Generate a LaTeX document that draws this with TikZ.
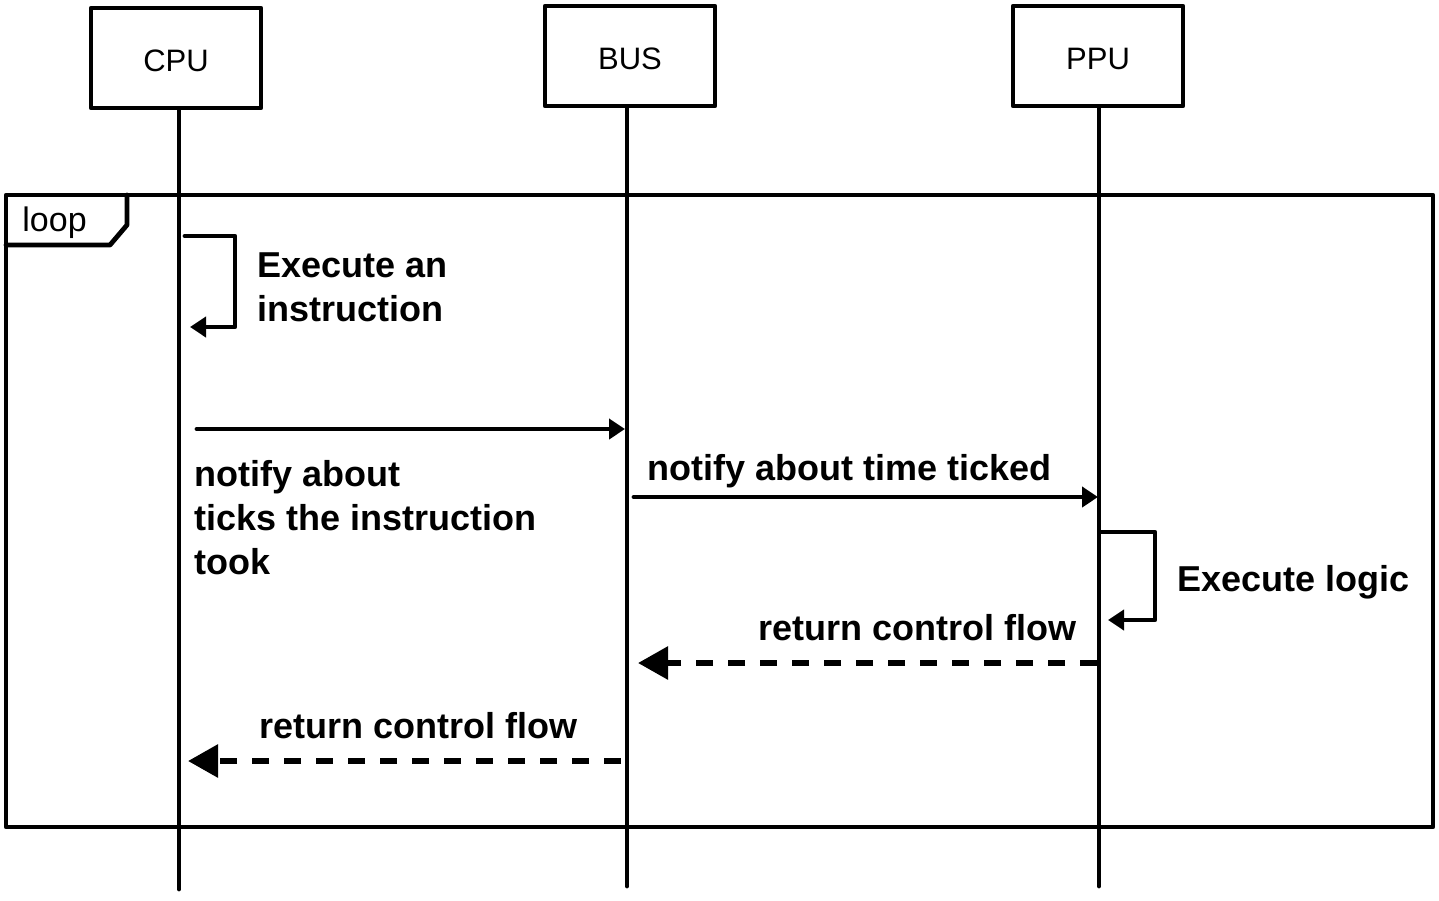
\documentclass[tikz,border=0pt]{standalone}
\usepackage{fontspec}
\setmainfont{Liberation Sans}
\usetikzlibrary{arrows.meta}
\begin{document}
\begin{tikzpicture}[x=0.5pt,y=-0.5pt,
  ln/.style={line width=2.4pt,line cap=round,line join=round},
  box/.style={ln,draw,minimum width=85pt,minimum height=50pt,inner sep=0pt,font=\fontsize{15.5}{18}\selectfont},
  lbl/.style={font=\bfseries\fontsize{18}{22}\selectfont,align=left,inner sep=0pt},
  msg/.style={ln,-{Triangle[length=8pt,width=10pt]}},
  ret/.style={line width=3pt,dash pattern=on 8.5pt off 7.5pt,-{Triangle[length=15pt,width=16pt]}}]
\useasboundingbox (0,0) rectangle (1439,900);
% participants
\node[box,text depth=0pt] (cpu) at (176,58) {\raisebox{-3pt}{CPU}};
\node[box,text depth=0pt] (bus) at (630,56) {\raisebox{-3pt}{BUS}};
\node[box,text depth=0pt] (ppu) at (1098,56) {\raisebox{-3pt}{PPU}};
\coordinate (cpuend) at (179,889);
\coordinate (busend) at (627,886);
\coordinate (ppuend) at (1099,886);
\draw[ln] (cpu.south -| cpuend) -- (cpuend);
\draw[ln] (bus.south -| busend) -- (busend);
\draw[ln] (ppu.south -| ppuend) -- (ppuend);
% loop frame
\draw[ln] (6,195) rectangle (1433,827);
\draw[ln] (6,245) -- (110,245) -- (127,225) -- (127,195);
\node[font=\fontsize{17}{20}\selectfont,anchor=base west,inner sep=0pt] (looplbl) at (22,231) {loop};
% self message CPU
\coordinate (s1a) at (185,236);
\coordinate (s1b) at (190,327);
\draw[msg] (s1a) -- (235,236) -- (235,327) -- (s1b);
\node[lbl,anchor=north west] (l1) at (257,252) {Execute an\\instruction};
% CPU -> BUS
\coordinate (m1a) at (197,429);
\coordinate (m1b) at (625,429);
\draw[msg] (m1a) -- (m1b);
\node[lbl,anchor=north west] (l2) at (194,460) {notify about\\ticks the instruction\\took};
% BUS -> PPU
\coordinate (m2a) at (634,497);
\coordinate (m2b) at (1098,497);
\draw[msg] (m2a) -- (m2b);
\node[lbl,anchor=north west] (l3) at (647,454) {notify about time ticked};
% self message PPU
\coordinate (s2a) at (1101,532);
\coordinate (s2b) at (1108,620);
\draw[msg] (s2a) -- (1155,532) -- (1155,620) -- (s2b);
\node[lbl,anchor=north west] (l4) at (1177,565) {Execute logic};
% returns
\coordinate (r1a) at (1097,663);
\coordinate (r1b) at (638,663);
\draw[ret] (r1a) -- (r1b);
\node[lbl,anchor=north east] (l5) at (1077,614) {return control flow};
\coordinate (r2a) at (621,761);
\coordinate (r2b) at (188,761);
\draw[ret] (r2a) -- (r2b);
\node[lbl,anchor=north west] (l6) at (259,712) {return control flow};
\end{tikzpicture}
\end{document}
